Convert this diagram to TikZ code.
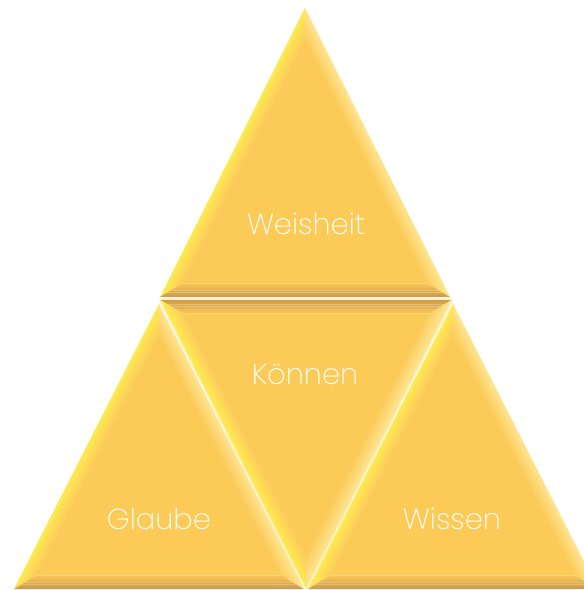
\documentclass[tikz,border=0pt]{standalone}
\usepackage{fontspec}
\setmainfont{Poppins}[UprightFont=* ExtraLight]
\usetikzlibrary{calc}
\definecolor{face}{HTML}{FCCA56}
\definecolor{darkbev}{HTML}{D09E4B}
\definecolor{brightbev}{HTML}{FFE84A}
\definecolor{palebev}{HTML}{FEE288}
\definecolor{gapcol}{HTML}{FBF1C8}
\tikzset{
  lbl/.style={text=white,font=\fontsize{29}{32}\selectfont,inner sep=0pt},
  gapline/.style={draw=gapcol,line width=4pt},
}
% \bevband{A}{B}{C}{I}{f1}{f2}{colAB}{colBC}{colCA}  (colours already mixed)
\newcommand{\bevband}[9]{%
  \coordinate (a1) at ($(#4)!#5!(#1)$);
  \coordinate (b1) at ($(#4)!#5!(#2)$);
  \coordinate (c1) at ($(#4)!#5!(#3)$);
  \coordinate (a2) at ($(#4)!#6!(#1)$);
  \coordinate (b2) at ($(#4)!#6!(#2)$);
  \coordinate (c2) at ($(#4)!#6!(#3)$);
  \fill[#7] (a1) -- (b1) -- (b2) -- (a2) -- cycle;
  \fill[#8] (b1) -- (c1) -- (c2) -- (b2) -- cycle;
  \fill[#9] (c1) -- (a1) -- (a2) -- (c2) -- cycle;
}
% \bevtri{A}{B}{C}{I}{colAB}{colBC}{colCA}
\newcommand{\bevtri}[7]{%
  \bevband{#1}{#2}{#3}{#4}{1}{0.975}{#5}{#6}{#7}
  \bevband{#1}{#2}{#3}{#4}{0.975}{0.95}{#5!85!face}{#6!85!face}{#7!85!face}
  \bevband{#1}{#2}{#3}{#4}{0.95}{0.925}{#5!68!face}{#6!68!face}{#7!68!face}
  \bevband{#1}{#2}{#3}{#4}{0.925}{0.9}{#5!50!face}{#6!50!face}{#7!50!face}
  \bevband{#1}{#2}{#3}{#4}{0.9}{0.875}{#5!32!face}{#6!32!face}{#7!32!face}
  \bevband{#1}{#2}{#3}{#4}{0.875}{0.85}{#5!15!face}{#6!15!face}{#7!15!face}
  \coordinate (ai) at ($(#4)!0.85!(#1)$);
  \coordinate (bi) at ($(#4)!0.85!(#2)$);
  \coordinate (ci) at ($(#4)!0.85!(#3)$);
  \fill[face] (ai) -- (bi) -- (ci) -- cycle;
}
\begin{document}
\begin{tikzpicture}[x=1pt,y=-1pt]
\fill[white] (0,0) rectangle (584,590);
\useasboundingbox (0,0) rectangle (584,590);
\begin{scope}
\clip (0,0) rectangle (584,590);
% coordinates
\coordinate (tA) at (305,8);
\coordinate (tB) at (160,297);
\coordinate (tC) at (450,297);
\coordinate (tI) at (305,208);
\coordinate (mA) at (160.5,300);
\coordinate (mB) at (451.5,300);
\coordinate (mC) at (306,588);
\coordinate (mI) at (306,389);
\coordinate (lA) at (159,304);
\coordinate (lB) at (14,589);
\coordinate (lC) at (304,589);
\coordinate (lI) at (159,500);
\coordinate (rA) at (453,304);
\coordinate (rB) at (308,589);
\coordinate (rC) at (598,589);
\coordinate (rI) at (453,500);
% pale seams between the pieces
\draw[gapline] (mA) -- (mB);
\draw[gapline] (mA) -- (mC);
\draw[gapline] (mB) -- (mC);
% pieces
\bevtri{tA}{tB}{tC}{tI}{brightbev}{darkbev}{palebev}
\bevtri{mA}{mB}{mC}{mI}{darkbev}{palebev}{brightbev}
\bevtri{lA}{lB}{lC}{lI}{brightbev}{darkbev}{palebev}
\bevtri{rA}{rB}{rC}{rI}{brightbev}{darkbev}{palebev}
\end{scope}
\node[lbl] (weisheit) at (306,224) {Weisheit};
\node[lbl] (koennen) at (305,374) {Können};
\node[lbl] (glaube) at (159,519) {Glaube};
\node[lbl] (wissen) at (452,519) {Wissen};
\end{tikzpicture}
\end{document}
